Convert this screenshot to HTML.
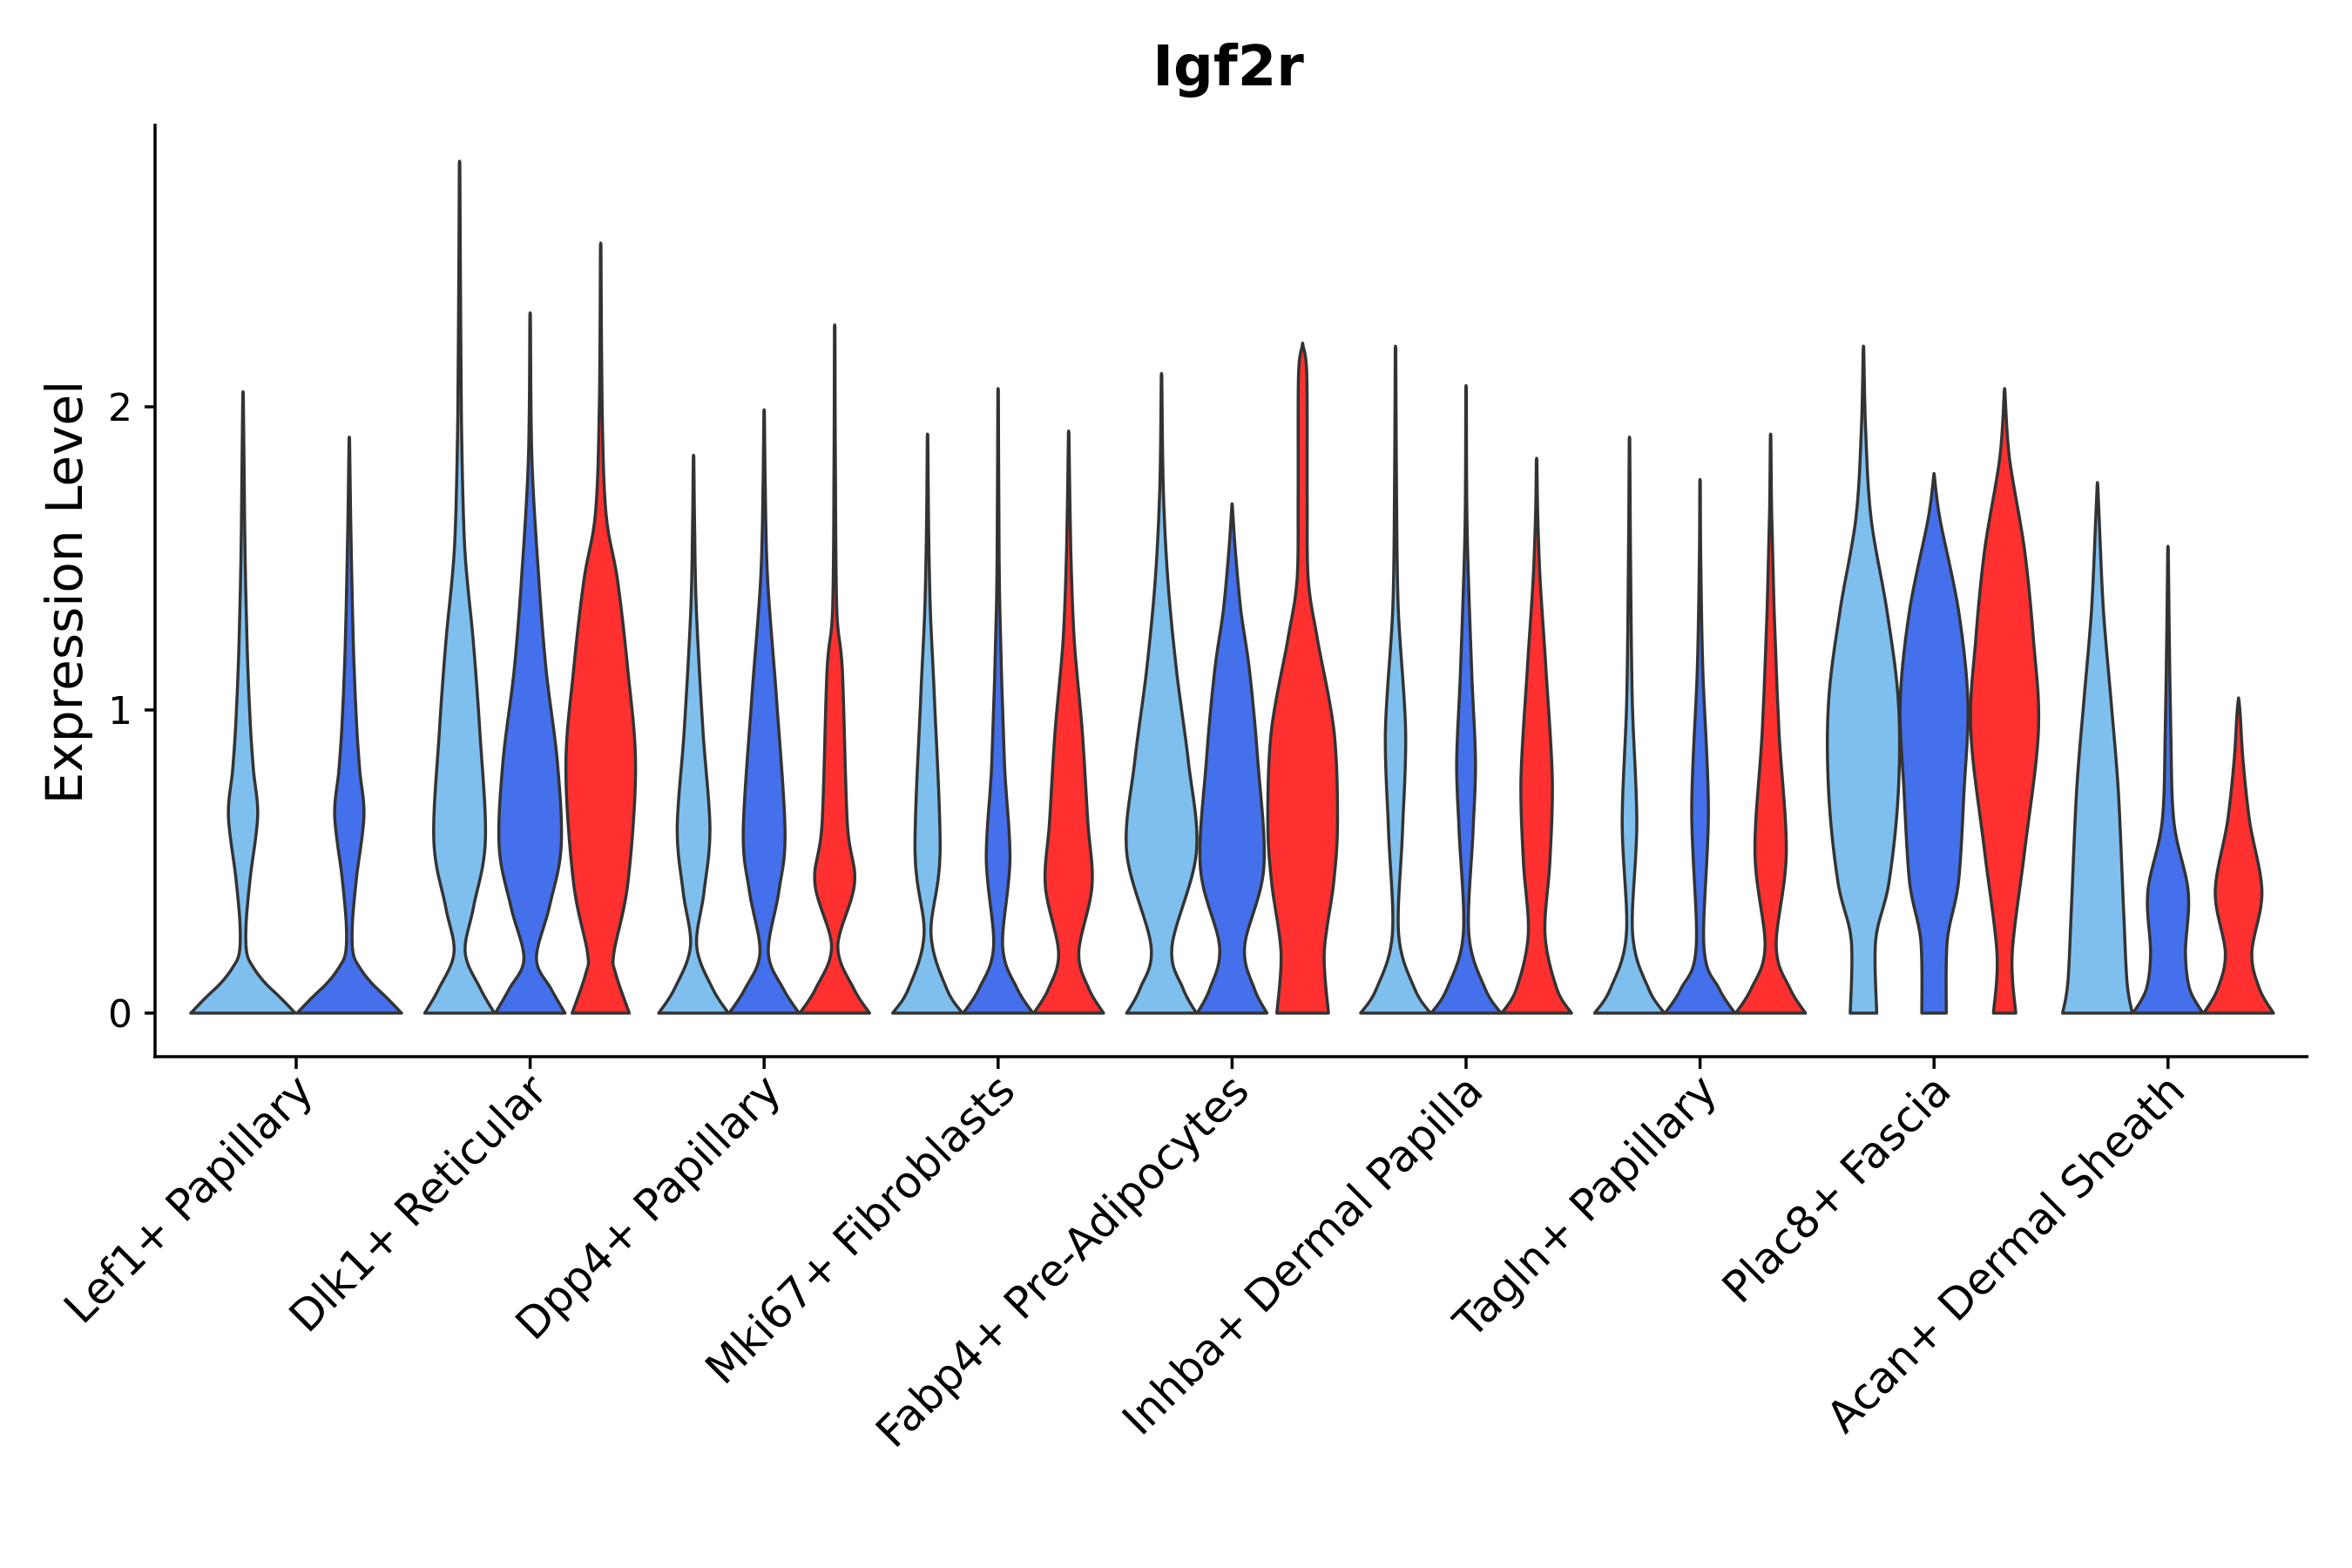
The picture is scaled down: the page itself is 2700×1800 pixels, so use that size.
<!DOCTYPE html>
<html><head><meta charset="utf-8"><style>
html,body{margin:0;padding:0;background:#fff}
svg{display:block}
text{font-family:"DejaVu Sans","Liberation Sans",sans-serif;fill:#000}
</style></head><body>
<svg id="chart" width="2700" height="1800" viewBox="0 0 2700 1800" xmlns="http://www.w3.org/2000/svg">
<text x="1410" y="98" font-size="64" font-weight="bold" text-anchor="middle">Igf2r</text>
<text transform="translate(94,680) rotate(-90)" font-size="58" text-anchor="middle">Expression Level</text>
<g id="marks"></g>
<g id="axes"></g>
</svg>
<script>
const categories = ["Lef1+ Papillary","Dlk1+ Reticular","Dpp4+ Papillary","Mki67+ Fibroblasts","Fabp4+ Pre-Adipocytes","Inhba+ Dermal Papilla","Tagln+ Papillary","Plac8+ Fascia","Acan+ Dermal Sheath"];
const yTicks = [0,1,2];
const seriesColors = ["#7FBFEE","#4570EB","#FF3030"];
// number of split groups per category
const groupCounts = [2,3,3,3,3,3,3,3,3];
// violin max values per category (per group)
const violinMax = [
 [2.05,1.90],[2.81,2.31,2.54],[1.84,1.99,2.27],[1.91,2.06,1.92],[2.11,1.68,2.21],
 [2.20,2.07,1.83],[1.90,1.76,1.91],[2.20,1.78,2.06],[1.75,1.54,1.04]];
// density profiles: [value, relative width]
const violinDensity = [
 [[[0,1],[0.05,0.72],[0.1,0.42],[0.15,0.2],[0.2,0.07],[0.3,0.06],[0.45,0.14],[0.65,0.28],[0.8,0.2],[0.95,0.14],[1.2,0.08],[1.5,0.04],[1.8,0.02]],
  [[0,1],[0.05,0.72],[0.1,0.42],[0.15,0.2],[0.2,0.07],[0.3,0.06],[0.45,0.14],[0.65,0.28],[0.8,0.2],[0.95,0.14],[1.2,0.08],[1.5,0.04],[1.7,0.02]]],
 [[[0,1],[0.08,0.6],[0.2,0.16],[0.35,0.4],[0.57,0.74],[0.93,0.58],[1.23,0.39],[1.53,0.15],[1.9,0.06],[2.3,0.03]],
  [[0,1],[0.08,0.6],[0.18,0.18],[0.35,0.55],[0.55,0.89],[0.83,0.78],[1.13,0.46],[1.43,0.25],[1.83,0.05]],
  [[0,0.82],[0.13,0.43],[0.2,0.38],[0.43,0.78],[0.81,1.0],[1.13,0.78],[1.43,0.48],[1.65,0.15],[2.0,0.04]]],
 [[[0,1],[0.08,0.55],[0.22,0.09],[0.4,0.3],[0.61,0.47],[0.93,0.27],[1.33,0.08],[1.6,0.03]],
  [[0,1],[0.08,0.55],[0.2,0.12],[0.4,0.42],[0.6,0.6],[1.03,0.36],[1.43,0.1],[1.75,0.03]],
  [[0,1],[0.08,0.55],[0.22,0.09],[0.43,0.57],[0.63,0.36],[1.13,0.22],[1.33,0.06],[1.8,0.02]]],
 [[[0,1],[0.08,0.55],[0.26,0.1],[0.53,0.36],[1.03,0.2],[1.33,0.08],[1.6,0.03]],
  [[0,1],[0.08,0.55],[0.22,0.13],[0.51,0.34],[0.83,0.18],[1.33,0.05],[1.7,0.02]],
  [[0,1],[0.08,0.58],[0.2,0.29],[0.42,0.67],[0.63,0.55],[0.93,0.39],[1.23,0.16],[1.53,0.06]]],
 [[[0,1],[0.08,0.62],[0.22,0.3],[0.53,1.0],[0.83,0.77],[1.13,0.43],[1.43,0.18],[1.73,0.05]],
  [[0,1],[0.08,0.64],[0.22,0.36],[0.48,0.91],[0.83,0.74],[1.13,0.5],[1.33,0.25],[1.53,0.09]],
  [[0,0.74],[0.2,0.62],[0.43,0.89],[0.63,1.0],[0.93,0.9],[1.23,0.43],[1.43,0.16],[1.7,0.13],[2.1,0.12]]],
 [[[0,1],[0.08,0.55],[0.26,0.09],[0.6,0.2],[0.93,0.29],[1.33,0.08],[1.7,0.03]],
  [[0,1],[0.08,0.55],[0.26,0.08],[0.6,0.2],[0.83,0.27],[1.13,0.16],[1.6,0.03]],
  [[0,1],[0.08,0.58],[0.26,0.24],[0.5,0.38],[0.77,0.45],[1.13,0.27],[1.43,0.1],[1.65,0.03]]],
 [[[0,1],[0.08,0.55],[0.26,0.09],[0.63,0.21],[1.03,0.08],[1.5,0.03]],
  [[0,1],[0.08,0.55],[0.22,0.11],[0.67,0.24],[1.13,0.08],[1.5,0.02]],
  [[0,1],[0.08,0.56],[0.22,0.16],[0.53,0.45],[0.93,0.24],[1.33,0.1],[1.65,0.03]]],
 [[[0,0.38],[0.24,0.35],[0.43,0.73],[0.73,1.0],[1.03,1.0],[1.33,0.67],[1.63,0.22],[1.93,0.06]],
  [[0,0.35],[0.24,0.38],[0.43,0.7],[0.73,0.86],[1.03,0.97],[1.33,0.7],[1.63,0.17]],
  [[0,0.32],[0.2,0.22],[0.53,0.57],[0.93,0.97],[1.23,0.83],[1.53,0.57],[1.83,0.14]]],
 [[[0,1],[0.1,0.85],[0.34,0.75],[0.73,0.6],[1.03,0.39],[1.33,0.17],[1.63,0.05]],
  [[0,1],[0.08,0.62],[0.2,0.5],[0.4,0.58],[0.63,0.17],[0.93,0.08],[1.3,0.03]],
  [[0,1],[0.08,0.6],[0.2,0.38],[0.4,0.67],[0.63,0.32],[0.83,0.13],[0.98,0.05]]]
];

const X0 = 178, X1 = 2650, Y0 = 1163, YUNIT = 348, AXY = 1213, AXTOP = 142;
const C0 = 340, CSTEP = 268.6;
function yScale(v){ return Y0 - v*YUNIT; }
function xCenter(i){ return C0 + i*CSTEP; }
function groupLayout(n){ return n===2 ? {off:[-61,61], hw:60} : {off:[-81,0,81], hw:40}; }

function smoothPath(pts){
  let d = "M"+pts[0][0].toFixed(1)+","+pts[0][1].toFixed(1);
  for(let i=0;i<pts.length-1;i++){
    const p0=pts[Math.max(0,i-1)], p1=pts[i], p2=pts[i+1], p3=pts[Math.min(pts.length-1,i+2)];
    const c1=[p1[0]+(p2[0]-p0[0])/6, p1[1]+(p2[1]-p0[1])/6];
    const c2=[p2[0]-(p3[0]-p1[0])/6, p2[1]-(p3[1]-p1[1])/6];
    d+=" C"+c1[0].toFixed(1)+","+c1[1].toFixed(1)+" "+c2[0].toFixed(1)+","+c2[1].toFixed(1)+" "+p2[0].toFixed(1)+","+p2[1].toFixed(1);
  }
  return d;
}

const NS="http://www.w3.org/2000/svg";
const marks=document.getElementById("marks");
categories.forEach((cat,i)=>{
  const L=groupLayout(groupCounts[i]);
  for(let g=0; g<groupCounts[i]; g++){
    const cx=xCenter(i)+L.off[g], hw=L.hw;
    const dens=violinDensity[i][g], top=violinMax[i][g];
    const left=[], right=[];
    dens.forEach(([v,w])=>{ left.push([cx-w*hw, yScale(v)]); right.push([cx+w*hw, yScale(v)]); });
    const tip=[cx, yScale(top)];
    const side=left.concat([[cx-0.3,yScale(top)+2]]);
    const sideR=right.concat([[cx+0.3,yScale(top)+2]]).reverse();
    let d=smoothPath(side)+" L"+tip[0]+","+tip[1]+" L"+sideR[0][0].toFixed(1)+","+sideR[0][1].toFixed(1)+" "+smoothPath(sideR).replace(/^M[^ ]+/,"")+" Z";
    const p=document.createElementNS(NS,"path");
    p.setAttribute("d",d);
    p.setAttribute("fill",seriesColors[g]);
    p.setAttribute("stroke","#333");
    p.setAttribute("stroke-width","3.5");
    p.setAttribute("stroke-linejoin","round");
    
    
    marks.appendChild(p);
  }
});

const axes=document.getElementById("axes");
function line(x1,y1,x2,y2,w){
  const l=document.createElementNS(NS,"line");
  l.setAttribute("x1",x1);l.setAttribute("y1",y1);l.setAttribute("x2",x2);l.setAttribute("y2",y2);
  l.setAttribute("stroke","#000");l.setAttribute("stroke-width",w);
  return l;
}
const ya=line(X0,AXTOP,X0,AXY+2,3.5);


axes.appendChild(ya);
const xa=line(X0-2,AXY,X1,AXY,3.5);


axes.appendChild(xa);
yTicks.forEach(t=>{
  const tk=line(X0-12,yScale(t),X0,yScale(t),3.5);
  
  
  axes.appendChild(tk);
  const tx=document.createElementNS(NS,"text");
  tx.setAttribute("x",X0-26);tx.setAttribute("y",yScale(t)+16);
  tx.setAttribute("font-size","44");tx.setAttribute("text-anchor","end");
  tx.textContent=t;
  
  
  axes.appendChild(tx);
});
categories.forEach((c,i)=>{
  const x=xCenter(i);
  const tk=line(x,AXY,x,AXY+14,3.5);
  
  
  axes.appendChild(tk);
  const tx=document.createElementNS(NS,"text");
  tx.setAttribute("transform","translate("+(x+22)+","+(AXY+42)+") rotate(-45)");
  tx.setAttribute("font-size","50");tx.setAttribute("text-anchor","end");
  tx.textContent=c;
  
  
  axes.appendChild(tx);
});
</script>
</body></html>
